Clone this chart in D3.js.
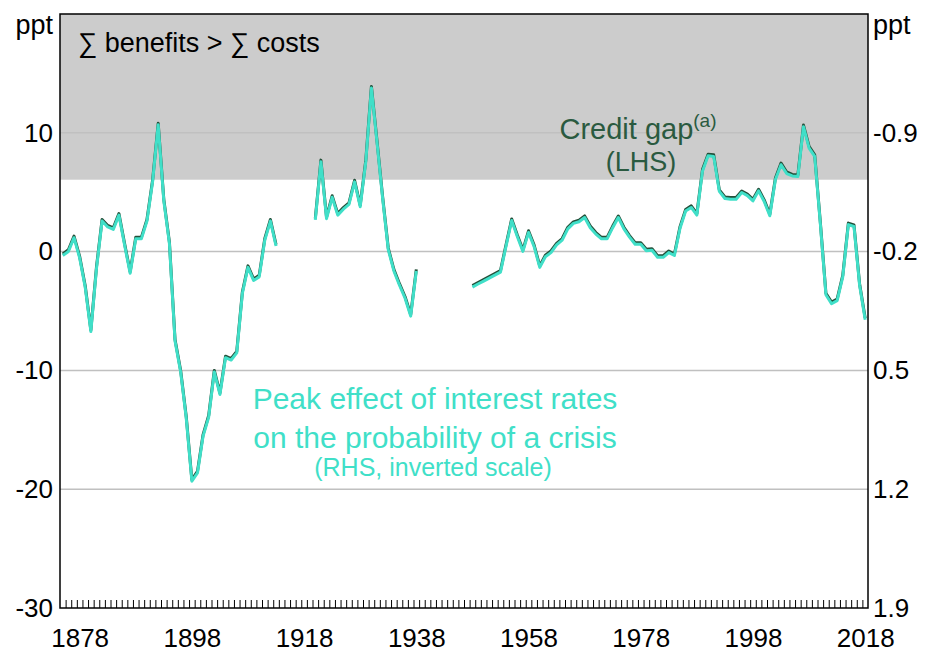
<!DOCTYPE html>
<head>
    <meta charset="utf-8">
    <script src="https://d3js.org/d3.v7.min.js"></script>
    <style>
        body {
            margin: 0;
            background: white;
            font-family: "Liberation Sans", Arial, sans-serif;
        }

        .axis-label text {
            font-size: 26px;
            fill: black;
        }

        .grid-line {
            stroke: #c0c0c0;
            stroke-width: 1.5px;
        }

        .frame {
            fill: none;
            stroke: black;
            stroke-width: 1.5px;
        }

        .gap-line {
            fill: none;
            stroke: #24503a;
            stroke-width: 3px;
            stroke-linejoin: round;
        }

        .peak-line {
            fill: none;
            stroke: #40dfc8;
            stroke-width: 3px;
            stroke-linejoin: round;
        }
    </style>
</head>

<body>
<script>
    // credit gap (LHS, ppt), one value a year from 1875; null = no data
    var startYear = 1875;
    var creditGap = [
        -0.2, 0.15, 1.3, -0.4, -2.9, -6.6, -1.3, 2.7, 2.2, 2.0,      // 1875-1884
        3.2, 0.7, -1.7, 1.2, 1.2, 2.7, 6.0, 10.8, 4.4, 0.8,          // 1885-1894
        -7.4, -10.0, -13.9, -19.2, -18.5, -15.4, -13.8, -10.0, -11.9, -8.8, // 1895-1904
        -9.0, -8.4, -3.4, -1.2, -2.3, -2.0, 1.1, 2.7, 0.6, null,     // 1905-1914
        null, null, null, null, null, 2.8, 7.7, 2.9, 4.7, 3.2,       // 1915-1924
        3.7, 4.1, 6.0, 3.9, 7.7, 13.9, 9.3, 4.6, 0.3, -1.5,          // 1925-1934
        -2.7, -3.8, -5.3, -1.5, null, null, null, null, null, null,  // 1935-1944
        null, null, null, -2.85, -2.6, -2.35, -2.1, -1.85, -1.6, 0.6, // 1945-1954
        2.75, 1.4, 0.15, 1.75, 0.55, -1.2, -0.3, 0.05, 0.7, 1.1,     // 1955-1964
        2.05, 2.5, 2.65, 3.0, 2.15, 1.6, 1.2, 1.2, 2.15, 3.0,        // 1965-1974
        2.05, 1.35, 0.75, 0.75, 0.2, 0.25, -0.35, -0.35, 0.05, -0.2, // 1975-1984
        2.1, 3.55, 3.85, 3.2, 6.9, 8.2, 8.15, 5.2, 4.6, 4.55,        // 1985-1994
        4.55, 5.1, 4.85, 4.4, 5.25, 4.35, 3.15, 6.2, 7.45, 6.7,      // 1995-2004
        6.5, 6.45, 10.65, 8.85, 8.15, 2.5, -3.5, -4.25, -4.0, -2.0,  // 2005-2014
        2.4, 2.25, -2.7, -5.6                                        // 2015-2018
    ];

    // peak effect of interest rates on crisis probability (RHS, ppt, inverted)
    var peakEffect = [
        -0.177, -0.201, -0.282, -0.163, 0.012, 0.271, -0.100, -0.380, -0.345, -0.331,
        -0.415, -0.240, -0.072, -0.275, -0.275, -0.380, -0.611, -0.947, -0.499, -0.247,
        0.327, 0.509, 0.782, 1.153, 1.104, 0.887, 0.775, 0.509, 0.642, 0.425,
        0.439, 0.397, 0.047, -0.107, -0.030, -0.051, -0.268, -0.380, -0.233, null,
        null, null, null, null, null, -0.387, -0.730, -0.394, -0.520, -0.415,
        -0.450, -0.478, -0.611, -0.464, -0.730, -1.164, -0.842, -0.513, -0.212, -0.086,
        -0.002, 0.075, 0.180, -0.086, null, null, null, null, null, null,
        null, null, null, 0.009, -0.009, -0.026, -0.044, -0.061, -0.079, -0.233,
        -0.383, -0.289, -0.201, -0.313, -0.229, -0.107, -0.170, -0.194, -0.240, -0.268,
        -0.334, -0.366, -0.376, -0.401, -0.341, -0.303, -0.275, -0.275, -0.341, -0.401,
        -0.334, -0.285, -0.243, -0.243, -0.205, -0.208, -0.166, -0.166, -0.194, -0.177,
        -0.338, -0.439, -0.460, -0.415, -0.674, -0.765, -0.761, -0.555, -0.513, -0.509,
        -0.509, -0.548, -0.530, -0.499, -0.558, -0.495, -0.411, -0.625, -0.712, -0.660,
        -0.646, -0.642, -0.936, -0.810, -0.761, -0.366, 0.054, 0.107, 0.089, -0.051,
        -0.359, -0.348, -0.002, 0.201
    ];

    var yearTicks = [1878, 1898, 1918, 1938, 1958, 1978, 1998, 2018];
    var leftTicks = [-30, -20, -10, 0, 10];
    var rightTicks = [1.9, 1.2, 0.5, -0.2, -0.9];
    var shadeFrom = 6.05;   // LHS level where sum of benefits > sum of costs

    var years = creditGap.map(function(d, i) { return startYear + i; });

    var margin = {top: 14, right: 57, bottom: 44, left: 60};
    var width = 925 - margin.left - margin.right,
        height = 652 - margin.top - margin.bottom;

    var svg = d3.select("body").append("svg")
        .attr("width", 925)
        .attr("height", 652)
        .append("g")
        .attr("transform", "translate(" + margin.left + "," + margin.top + ")");

    var x = d3.scaleLinear()
        .domain([1874.5, 2018.5])
        .range([0, width]);

    var yL = d3.scaleLinear()
        .domain([-30, 20])
        .range([height, 0]);

    // right scale is inverted
    var yR = d3.scaleLinear()
        .domain([1.9, -1.6])
        .range([height, 0]);

    // shaded area
    svg.append("rect")
        .attr("x", 0)
        .attr("y", 0)
        .attr("width", width)
        .attr("height", yL(shadeFrom))
        .attr("fill", "#cccccc");

    // grid lines
    svg.append("g")
        .selectAll("line")
        .data(leftTicks.filter(function(d) { return d > -30; }))
        .enter().append("line")
        .attr("class", "grid-line")
        .attr("x1", 0)
        .attr("x2", width)
        .attr("y1", function(d) { return yL(d); })
        .attr("y2", function(d) { return yL(d); });

    // year ticks along the bottom
    var minorTicks = d3.range(1875.5, 2018.5, 1);
    svg.append("g")
        .attr("transform", "translate(0," + height + ")")
        .call(d3.axisBottom(x).tickValues(minorTicks).tickSize(-8).tickFormat(""))
        .call(function(g) { g.select(".domain").remove(); })
        .selectAll("line")
        .attr("stroke", "black")
        .attr("stroke-width", 1);

    // lines
    var gapLine = d3.line()
        .defined(function(d, i) { return d != null; })
        .x(function(d, i) { return x(years[i]); })
        .y(function(d) { return yL(d); });

    var peakLine = d3.line()
        .defined(function(d) { return d != null; })
        .x(function(d, i) { return x(years[i]); })
        .y(function(d) { return yR(d); });

    svg.append("path")
        .attr("class", "gap-line")
        .attr("d", gapLine(creditGap));

    svg.append("path")
        .attr("class", "peak-line")
        .attr("d", peakLine(peakEffect));

    // frame
    svg.append("rect")
        .attr("class", "frame")
        .attr("x", 0)
        .attr("y", 0)
        .attr("width", width)
        .attr("height", height);

    // axes
    svg.append("g")
        .attr("class", "axis-label")
        .call(d3.axisLeft(yL).tickValues(leftTicks).tickSize(0).tickPadding(7)
            .tickFormat(function(d) { return d; }))
        .call(function(g) { g.select(".domain").remove(); })
        .selectAll("text")
        .attr("font-family", null)
        .attr("font-size", null);

    svg.append("g")
        .attr("class", "axis-label")
        .attr("transform", "translate(" + width + ",0)")
        .call(d3.axisRight(yR).tickValues(rightTicks).tickSize(0).tickPadding(5)
            .tickFormat(function(d) { return d.toFixed(1); }))
        .call(function(g) { g.select(".domain").remove(); })
        .selectAll("text")
        .attr("font-family", null)
        .attr("font-size", null);

    svg.append("g")
        .attr("class", "axis-label")
        .attr("transform", "translate(0," + height + ")")
        .call(d3.axisBottom(x).tickValues(yearTicks).tickSize(0).tickPadding(21)
            .tickFormat(d3.format("d")))
        .call(function(g) { g.select(".domain").remove(); })
        .selectAll("text")
        .attr("font-family", null)
        .attr("font-size", null);

    // units
    svg.append("text")
        .attr("x", -7)
        .attr("y", 20)
        .attr("text-anchor", "end")
        .attr("font-size", 27)
        .text("ppt");

    svg.append("text")
        .attr("x", width + 5)
        .attr("y", 20)
        .attr("font-size", 27)
        .text("ppt");

    // annotations
    svg.append("text")
        .attr("x", 18)
        .attr("y", 38)
        .attr("font-size", 27)
        .text("\u2211 benefits > \u2211 costs");

    var gapLabel = svg.append("text")
        .attr("x", 578)
        .attr("y", 125)
        .attr("text-anchor", "middle")
        .attr("font-size", 29)
        .attr("fill", "#2a5a40");
    gapLabel.append("tspan").text("Credit gap");
    gapLabel.append("tspan")
        .attr("font-size", 19)
        .attr("dy", -12)
        .text("(a)");

    svg.append("text")
        .attr("x", 581)
        .attr("y", 157)
        .attr("text-anchor", "middle")
        .attr("font-size", 27)
        .attr("fill", "#2a5a40")
        .text("(LHS)");

    var peakLabel = svg.append("text")
        .attr("text-anchor", "middle")
        .attr("fill", "#40dfc8");
    peakLabel.append("tspan")
        .attr("x", 375)
        .attr("y", 395)
        .attr("font-size", 30)
        .text("Peak effect of interest rates");
    peakLabel.append("tspan")
        .attr("x", 375)
        .attr("y", 434)
        .attr("font-size", 30)
        .text("on the probability of a crisis");
    peakLabel.append("tspan")
        .attr("x", 373)
        .attr("y", 462)
        .attr("font-size", 25)
        .text("(RHS, inverted scale)");
</script>
</body>
</html>
